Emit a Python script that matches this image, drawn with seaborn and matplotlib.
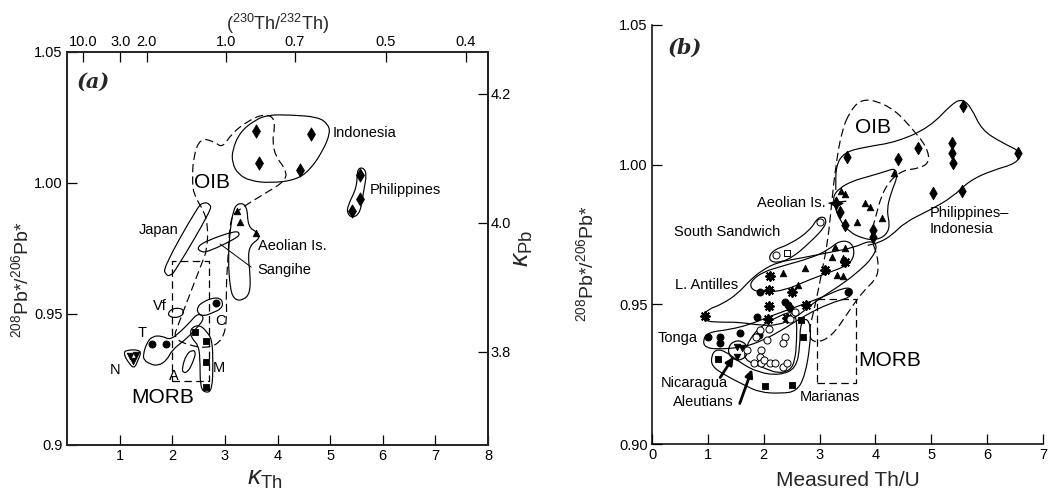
import numpy as np
import matplotlib
matplotlib.use("Agg")
import matplotlib.pyplot as plt
from matplotlib.path import Path
from matplotlib.patches import PathPatch, Ellipse, Rectangle
import seaborn as sns

sns.set_theme(style="ticks")
plt.rcParams['font.family'] = ['Liberation Sans', 'DejaVu Sans']
plt.rcParams['mathtext.fontset'] = 'custom'
plt.rcParams['mathtext.rm'] = 'Liberation Sans'
plt.rcParams['mathtext.it'] = 'Liberation Sans:italic'

# ---------------- panel (a) data : kappa_Th vs 208Pb*/206Pb* ----------------
A_X_TICKS = [1, 2, 3, 4, 5, 6, 7, 8]
A_Y_TICKS = [0.9, 0.95, 1.00, 1.05]
A_Y_TICKLABELS = ["0.9", "0.95", "1.00", "1.05"]
A_TOP_TICKS = [10.0, 3.0, 2.0, 1.0, 0.7, 0.5, 0.4]          # (230Th/232Th)
A_TOP_LABELS = ["10.0", "3.0", "2.0", "1.0", "0.7", "0.5", "0.4"]
TH_CONST = 3.03                                             # (230Th/232Th) = 3.03 / kappa
A_RIGHT_TICKS = [3.8, 4.0, 4.2]                             # kappa_Pb
PB_SCALE = 0.2462                                           # 208Pb*/206Pb* = 0.2462 * kappa_Pb

A_IND_X = [3.59, 4.64, 3.65, 4.43]
A_IND_Y = [1.0199, 1.0187, 1.0076, 1.0050]
A_PHIL_X = [5.57, 5.57, 5.42]
A_PHIL_Y = [1.0030, 0.9939, 0.9893]
A_AEOL_X = [3.23, 3.29, 3.59]
A_AEOL_Y = [0.9893, 0.9851, 0.9809]
A_TONGA_X = [1.62, 1.88]
A_TONGA_Y = [0.9385, 0.9385]
A_C_X = [2.83]
A_C_Y = [0.9542]
A_NIC_X = [1.20, 1.31, 1.26]
A_NIC_Y = [0.9340, 0.9344, 0.9321]
A_MAR_X = [2.43, 2.64, 2.64, 2.64]
A_MAR_Y = [0.9431, 0.9397, 0.9317, 0.9221]

A_OUT_INDONESIA = [(3.14, 1.0126), (3.29, 1.0195), (3.57, 1.0240), (3.82, 1.0260), (4.24, 1.0260),
                   (4.77, 1.0252), (4.96, 1.0225), (5.00, 1.0191), (4.87, 1.0126), (4.62, 1.0050),
                   (4.34, 1.0011), (3.86, 1.0000), (3.48, 1.0008), (3.25, 1.0034), (3.14, 1.0076)]
A_OUT_PHIL = [(5.61, 1.0061), (5.70, 1.0038), (5.63, 0.9962), (5.57, 0.9885), (5.42, 0.9866),
              (5.32, 0.9885), (5.34, 0.9916), (5.51, 0.9985), (5.51, 1.0050)]
A_OUT_OIB = [(2.53, 1.0172), (2.81, 1.0157), (2.95, 1.0134), (3.14, 1.0191), (3.44, 1.0237),
             (3.73, 1.0263), (3.92, 1.0252), (3.95, 1.0214), (3.90, 1.0157), (3.97, 1.0099),
             (4.14, 1.0057), (4.18, 1.0011), (3.71, 0.9954), (3.25, 0.9897), (3.10, 0.9866),
             (3.06, 0.9718), (3.02, 0.9592), (3.04, 0.9469), (2.95, 0.9401), (2.72, 0.9370),
             (2.34, 0.9378), (2.02, 0.9408), (2.11, 0.9458), (2.57, 0.9698), (2.66, 0.9744),
             (2.68, 0.9840), (2.59, 0.9897), (2.41, 0.9954), (2.38, 1.0011), (2.40, 1.0099)]
A_OUT_JAPAN = [(1.88, 0.9649), (1.83, 0.9676), (2.47, 0.9905), (2.59, 0.9927), (2.72, 0.9920),
               (2.74, 0.9897), (2.07, 0.9668), (1.96, 0.9645)]
A_OUT_SANGIHE = [(2.47, 0.9756), (2.68, 0.9782), (3.19, 0.9817), (3.29, 0.9809), (3.23, 0.9790),
                 (2.68, 0.9737), (2.53, 0.9737)]
A_OUT_AEOLIAN = [(3.25, 0.9924), (3.42, 0.9916), (3.44, 0.9832), (3.61, 0.9813), (3.67, 0.9790),
                 (3.48, 0.9763), (3.44, 0.9718), (3.48, 0.9656), (3.48, 0.9580), (3.35, 0.9553),
                 (3.19, 0.9553), (3.10, 0.9592), (3.06, 0.9718), (3.10, 0.9821), (3.16, 0.9897)]
A_OUT_TONGA = [(1.445, 0.9344), (1.52, 0.9393), (1.635, 0.9416), (1.806, 0.9416), (1.958, 0.9401),
               (2.148, 0.9431), (2.338, 0.9469), (2.49, 0.9504), (2.624, 0.9485), (2.433, 0.9439),
               (2.243, 0.9401), (1.996, 0.9363), (1.901, 0.9324), (1.73, 0.9302), (1.578, 0.9309),
               (1.464, 0.9324)]
A_OUT_NIC = [(1.103, 0.9363), (1.426, 0.9363), (1.35, 0.9324), (1.274, 0.9290), (1.16, 0.9317),
             (1.084, 0.9344)]
A_OUT_C = [(2.47, 0.9527), (2.586, 0.9546), (2.757, 0.9561), (2.909, 0.9561), (2.966, 0.9542),
           (2.928, 0.9519), (2.757, 0.9504), (2.605, 0.9492), (2.49, 0.9500)]
A_OUT_VF = [(1.92, 0.9504), (1.996, 0.9520), (2.148, 0.9523), (2.224, 0.9512), (2.186, 0.9492),
            (2.034, 0.9485), (1.939, 0.9492)]
A_OUT_ALEUT = [(2.186, 0.9294), (2.262, 0.9344), (2.376, 0.9363), (2.452, 0.9355), (2.395, 0.9317),
               (2.30, 0.9279), (2.205, 0.9275)]
A_OUT_MAR = [(2.376, 0.9450), (2.529, 0.9458), (2.662, 0.9431), (2.757, 0.9401), (2.776, 0.9313),
             (2.757, 0.9210), (2.643, 0.9198), (2.529, 0.9218), (2.529, 0.9336), (2.49, 0.9382),
             (2.395, 0.9401), (2.338, 0.9427)]
A_MORB_BOX = (2.00, 0.9244, 2.70, 0.9702)   # x0, y0, x1, y1
A_SANGIHE_LEADER = [(2.91, 0.9767), (3.50, 0.9679)]

A_LABELS = [("Indonesia", 5.04, 1.0191, "left", 10.5), ("Philippines", 5.76, 0.9973, "left", 10.5),
            ("OIB", 2.76, 1.0000, "center", 15), ("Japan", 2.11, 0.9821, "right", 10.5),
            ("Aeolian Is.", 3.63, 0.9760, "left", 10.5), ("Sangihe", 3.61, 0.9668, "left", 10.5),
            ("Vf", 1.77, 0.9530, "center", 10.5), ("C", 2.91, 0.9475, "center", 10.5),
            ("T", 1.43, 0.9427, "center", 10.5), ("N", 0.91, 0.9286, "center", 10.5),
            ("A", 2.03, 0.9262, "center", 10.5), ("M", 2.88, 0.9294, "center", 10.5),
            ("MORB", 1.81, 0.9180, "center", 15)]

# ---------------- panel (b) data : measured Th/U vs 208Pb*/206Pb* ----------------
B_X_TICKS = [0, 1, 2, 3, 4, 5, 6, 7]
B_Y_TICKS = [0.90, 0.95, 1.00, 1.05]
B_Y_TICKLABELS = ["0.90", "0.95", "1.00", "1.05"]

B_DIAM_X = [5.56, 3.49, 4.40, 4.76, 5.37, 5.37, 5.38, 6.55, 5.03, 5.55, 3.36, 3.45, 3.95, 3.95]
B_DIAM_Y = [1.0210, 1.0027, 1.0020, 1.0059, 1.0077, 1.0041, 1.0005, 1.0041, 0.9898, 0.9905,
            0.9830, 0.9783, 0.9765, 0.9740]
B_TRI_X = [3.38, 3.45, 3.81, 3.90, 3.67, 4.11, 3.27, 3.45, 3.22, 3.42, 2.74, 2.34, 2.61, 3.31, 3.42, 4.33]
B_TRI_Y = [0.9905, 0.9894, 0.9862, 0.9848, 0.9794, 0.9808, 0.9704, 0.9701, 0.9668, 0.9665,
           0.9629, 0.9611, 0.9568, 0.9604, 0.9600, 0.9970]
B_AST_X = [0.95, 2.11, 2.09, 2.09, 2.08, 2.50, 2.75, 2.42, 3.09, 3.45]
B_AST_Y = [0.9460, 0.9600, 0.9550, 0.9493, 0.9446, 0.9543, 0.9496, 0.9450, 0.9622, 0.9651]
B_FCIRC_X = [1.00, 1.22, 1.22, 1.57, 1.91, 1.93, 1.88, 2.38, 2.43, 2.47, 3.51]
B_FCIRC_Y = [0.9382, 0.9382, 0.9360, 0.9396, 0.9392, 0.9543, 0.9453, 0.9507, 0.9496, 0.9486, 0.9543]
B_OCIRC_X = [2.56, 2.47, 1.93, 2.09, 2.06, 1.86, 2.38, 2.34, 1.70, 1.95, 1.93, 1.82, 1.95,
             2.00, 2.11, 2.20, 2.34, 2.42, 2.22, 3.01]
B_OCIRC_Y = [0.9471, 0.9446, 0.9407, 0.9410, 0.9371, 0.9382, 0.9382, 0.9360, 0.9335, 0.9335,
             0.9310, 0.9289, 0.9289, 0.9299, 0.9289, 0.9289, 0.9274, 0.9289, 0.9676, 0.9794]
B_OSQ_X = [2.42]
B_OSQ_Y = [0.9683]
B_FSQ_X = [1.18, 2.02, 2.50, 2.70, 2.67]
B_FSQ_Y = [0.9306, 0.9206, 0.9213, 0.9382, 0.9443]
B_INVT_X = [1.52, 1.61, 1.52]
B_INVT_Y = [0.9346, 0.9342, 0.9310]
B_AEOL_STAR = (3.29, 0.9862)

B_OUT_OIB = [(3.54, 1.0188), (3.72, 1.0231), (3.99, 1.0231), (4.35, 1.0195), (4.65, 1.0131),
             (4.92, 1.0063), (4.97, 1.0009), (4.79, 0.9987), (4.49, 0.9980), (4.26, 0.9944),
             (4.11, 0.9891), (4.01, 0.9819), (3.90, 0.9737), (4.01, 0.9694), (4.06, 0.9633),
             (4.01, 0.9590), (3.76, 0.9543), (3.51, 0.9471), (3.22, 0.9385), (2.92, 0.9360),
             (2.79, 0.9389), (2.92, 0.9496), (3.04, 0.9615), (3.15, 0.9729), (3.22, 0.9873),
             (3.29, 0.9998), (3.40, 1.0124)]
B_OUT_PHILIND = [(3.29, 0.9909), (3.29, 0.9998), (3.45, 1.0045), (3.81, 1.0063), (4.38, 1.0081),
                 (4.97, 1.0134), (5.38, 1.0220), (5.56, 1.0235), (5.72, 1.0203), (5.90, 1.0124),
                 (6.28, 1.0077), (6.62, 1.0045), (6.53, 1.0005), (6.10, 0.9980), (5.69, 0.9944),
                 (5.38, 0.9884), (4.97, 0.9837), (4.53, 0.9794), (4.29, 0.9747), (4.08, 0.9722),
                 (3.86, 0.9711)]
B_OUT_AEOL = [(3.24, 0.9888), (3.36, 0.9916), (3.58, 0.9941), (3.90, 0.9959), (4.20, 0.9977),
              (4.35, 0.9987), (4.40, 0.9959), (4.28, 0.9901), (4.20, 0.9837), (4.26, 0.9783),
              (4.19, 0.9747), (3.99, 0.9729), (3.76, 0.9737), (3.54, 0.9758), (3.36, 0.9801),
              (3.27, 0.9851)]
B_OUT_TRI = [(1.75, 0.9579), (1.97, 0.9615), (2.38, 0.9640), (2.83, 0.9665), (3.15, 0.9694),
             (3.36, 0.9729), (3.58, 0.9722), (3.63, 0.9676), (3.51, 0.9640), (3.18, 0.9615),
             (2.79, 0.9586), (2.38, 0.9550), (2.02, 0.9543), (1.79, 0.9550)]
B_OUT_LANT = [(0.91, 0.9457), (1.00, 0.9482), (1.25, 0.9500), (1.54, 0.9539), (1.75, 0.9586),
              (1.97, 0.9622), (2.25, 0.9651), (2.65, 0.9665), (3.18, 0.9686), (3.63, 0.9704),
              (3.90, 0.9729), (4.04, 0.9711), (3.94, 0.9665), (3.72, 0.9622), (3.45, 0.9579),
              (3.09, 0.9532), (2.83, 0.9496), (2.56, 0.9450), (2.25, 0.9425), (1.93, 0.9425),
              (1.57, 0.9436), (1.22, 0.9436), (0.97, 0.9439)]
B_OUT_TONGA = [(0.91, 0.9371), (1.00, 0.9400), (1.40, 0.9410), (1.75, 0.9428), (2.11, 0.9457),
               (2.65, 0.9496), (3.09, 0.9529), (3.45, 0.9561), (3.60, 0.9554), (3.56, 0.9525),
               (3.18, 0.9504), (2.74, 0.9461), (2.38, 0.9414), (1.99, 0.9371), (1.63, 0.9346),
               (1.16, 0.9339), (0.95, 0.9346)]
B_OUT_ALEUT = [(1.66, 0.9328), (1.75, 0.9378), (1.97, 0.9425), (2.20, 0.9450), (2.47, 0.9475),
               (2.59, 0.9457), (2.59, 0.9371), (2.56, 0.9299), (2.47, 0.9263), (2.25, 0.9253),
               (2.02, 0.9271), (1.79, 0.9289), (1.66, 0.9306)]
B_OUT_MAR = [(1.06, 0.9314), (1.14, 0.9339), (1.32, 0.9332), (1.57, 0.9292), (1.90, 0.9256),
             (2.29, 0.9246), (2.58, 0.9271), (2.65, 0.9353), (2.65, 0.9425), (2.75, 0.9453),
             (2.84, 0.9425), (2.83, 0.9353), (2.74, 0.9246), (2.59, 0.9188), (2.29, 0.9181),
             (1.93, 0.9185), (1.66, 0.9210), (1.31, 0.9246), (1.07, 0.9278)]
B_OUT_SSAND = [(2.08, 0.9661), (2.16, 0.9694), (2.47, 0.9715), (2.83, 0.9765), (2.97, 0.9812),
               (3.11, 0.9812), (3.11, 0.9780), (2.83, 0.9722), (2.50, 0.9665), (2.22, 0.9647)]
B_NIC_RING = (1.54, 0.9335, 0.34, 0.0068)   # centre x, centre y, width, height
B_MORB_BOX = (2.95, 0.9220, 3.65, 0.9520)
B_ARROWS = [((1.22, 0.9238), (1.46, 0.9312)), ((1.57, 0.9145), (1.79, 0.9268))]
B_AEOL_LEADER = [(3.17, 0.9862), (3.47, 0.9869)]

B_LABELS = [("OIB", 3.95, 1.0134, "center", 15), ("Aeolian Is.", 3.11, 0.9862, "right", 10.5),
            ("South Sandwich", 1.34, 0.9758, "center", 10.5), ("Philippines\u2013", 4.97, 0.9826, "left", 10.5),
            ("Indonesia", 4.97, 0.9768, "left", 10.5), ("L. Antilles", 0.98, 0.9568, "center", 10.5),
            ("Tonga", 0.46, 0.9378, "center", 10.5), ("Nicaragua", 0.75, 0.9217, "center", 10.5),
            ("Aleutians", 0.91, 0.9149, "center", 10.5), ("Marianas", 3.18, 0.9167, "center", 10.5),
            ("MORB", 3.69, 0.9300, "left", 15)]


# ---------------- helpers ----------------
def smooth_path(pts, closed=True):
    P = np.asarray(pts, float)
    if closed:
        mids = (P + np.roll(P, -1, axis=0)) / 2.0
        verts = [mids[-1]]
        codes = [Path.MOVETO]
        for i in range(len(P)):
            verts += [P[i], mids[i]]
            codes += [Path.CURVE3, Path.CURVE3]
        return Path(verts, codes)
    mids = (P[:-1] + P[1:]) / 2.0
    verts = [P[0], mids[0]]
    codes = [Path.MOVETO, Path.LINETO]
    for i in range(1, len(P) - 1):
        verts += [P[i], mids[i]]
        codes += [Path.CURVE3, Path.CURVE3]
    verts.append(P[-1])
    codes.append(Path.LINETO)
    return Path(verts, codes)


def outline(ax, pts, dashed=False, closed=True, lw=0.85):
    ls = (0, (7, 3.5)) if dashed else '-'
    ax.add_patch(PathPatch(smooth_path(pts, closed), facecolor='none', edgecolor='black',
                           lw=lw, ls=ls, zorder=2))


def pts(ax, x, y, marker, s, filled=True, lw=0.6):
    fc = 'black' if filled else 'white'
    sns.scatterplot(x=x, y=y, ax=ax, marker=marker, s=s, color=fc, edgecolor='black',
                    linewidth=lw, legend=False, zorder=4)


def morb_box(ax, box):
    x0, y0, x1, y1 = box
    ax.add_patch(Rectangle((x0, y0), x1 - x0, y1 - y0, fill=False, ls=(0, (6, 3.5)),
                           lw=0.9, edgecolor='black', zorder=2))


fig = plt.figure(figsize=(10.52, 4.91), dpi=100)
axA = fig.add_axes([0.0637, 0.0937, 0.4002, 0.8004])
axB = fig.add_axes([0.6198, 0.0957, 0.3717, 0.8534])

# ---------------- panel (a) ----------------
for o in [A_OUT_INDONESIA, A_OUT_PHIL, A_OUT_JAPAN, A_OUT_SANGIHE, A_OUT_AEOLIAN, A_OUT_TONGA,
          A_OUT_NIC, A_OUT_C, A_OUT_VF, A_OUT_ALEUT, A_OUT_MAR]:
    outline(axA, o)
outline(axA, A_OUT_OIB, dashed=True)
morb_box(axA, A_MORB_BOX)
axA.plot([p[0] for p in A_SANGIHE_LEADER], [p[1] for p in A_SANGIHE_LEADER], color='black', lw=0.7)

pts(axA, A_IND_X, A_IND_Y, 'd', 45)
pts(axA, A_PHIL_X, A_PHIL_Y, 'd', 45)
pts(axA, A_AEOL_X, A_AEOL_Y, '^', 22)
pts(axA, A_TONGA_X, A_TONGA_Y, 'o', 26)
pts(axA, A_C_X, A_C_Y, 'o', 26)
pts(axA, A_NIC_X, A_NIC_Y, 'v', 22)
pts(axA, A_MAR_X, A_MAR_Y, 's', 22)

for txt, x, y, ha, fs in A_LABELS:
    axA.text(x, y, txt, ha=ha, va='center', fontsize=fs, color='black', zorder=5)

axA.set_xlim(0, 8)
axA.set_ylim(0.9, 1.05)
axA.set_xticks(A_X_TICKS)
axA.set_yticks(A_Y_TICKS)
axA.set_yticklabels(A_Y_TICKLABELS)
axA.tick_params(direction='in', length=7, width=0.9, labelsize=10.5, pad=3, colors='black')
for sp in axA.spines.values():
    sp.set_linewidth(1.1)
    sp.set_color('black')
axA.set_xlabel(r"$\kappa_{\mathrm{Th}}$", fontsize=19, labelpad=0)
axA.xaxis.set_label_coords(0.47, -0.055)
axA.set_ylabel(r"$^{208}$Pb*/$^{206}$Pb*", fontsize=14)
axA.yaxis.set_label_coords(-0.082, 0.42)

topA = axA.twiny()
topA.set_xlim(axA.get_xlim())
topA.set_xticks([TH_CONST / v for v in A_TOP_TICKS])
topA.set_xticklabels(A_TOP_LABELS)
topA.tick_params(direction='in', length=7, width=0.9, labelsize=10.5, pad=2, colors='black')
topA.set_xlabel(r"($^{230}$Th/$^{232}$Th)", fontsize=13, labelpad=4)

rightA = axA.secondary_yaxis('right', functions=(lambda y: y / PB_SCALE, lambda k: k * PB_SCALE))
rightA.set_yticks(A_RIGHT_TICKS)
rightA.set_yticklabels([f"{v:.1f}" for v in A_RIGHT_TICKS])
rightA.tick_params(direction='in', length=7, width=0.9, labelsize=10.5, pad=2, colors='black')
rightA.set_ylabel(r"$\kappa_{\mathrm{Pb}}$", fontsize=19, rotation=90, labelpad=0)

axA.text(0.022, 0.924, "(a)", transform=axA.transAxes, fontsize=15, family='DejaVu Serif',
         style='italic', weight='bold', va='center', ha='left')

# ---------------- panel (b) ----------------
for o in [B_OUT_PHILIND]:
    outline(axB, o, closed=False)
for o in [B_OUT_AEOL, B_OUT_TRI, B_OUT_LANT, B_OUT_TONGA, B_OUT_ALEUT, B_OUT_MAR, B_OUT_SSAND]:
    outline(axB, o)
outline(axB, B_OUT_OIB, dashed=True)
cx, cy, w, h = B_NIC_RING
axB.add_patch(Ellipse((cx, cy), w, h, fill=False, edgecolor='black', lw=0.9, zorder=2))
morb_box(axB, B_MORB_BOX)
for tail, tip in B_ARROWS:
    axB.annotate("", xy=tip, xytext=tail,
                 arrowprops=dict(arrowstyle='-|>', color='black', lw=2.0, mutation_scale=11,
                                 shrinkA=0, shrinkB=0), zorder=5)
axB.plot([p[0] for p in B_AEOL_LEADER], [p[1] for p in B_AEOL_LEADER], color='black', lw=1.0, zorder=4)

pts(axB, B_DIAM_X, B_DIAM_Y, 'd', 40)
pts(axB, B_TRI_X, B_TRI_Y, '^', 22)
pts(axB, B_AST_X, B_AST_Y, (8, 2, 0), 40, lw=1.4)
pts(axB, B_FCIRC_X, B_FCIRC_Y, 'o', 26)
pts(axB, B_OCIRC_X, B_OCIRC_Y, 'o', 26, filled=False, lw=0.7)
pts(axB, B_OSQ_X, B_OSQ_Y, 's', 22, filled=False, lw=0.7)
pts(axB, B_FSQ_X, B_FSQ_Y, 's', 24)
pts(axB, B_INVT_X, B_INVT_Y, 'v', 22)
pts(axB, [B_AEOL_STAR[0]], [B_AEOL_STAR[1]], (4, 1, 0), 90)

for txt, x, y, ha, fs in B_LABELS:
    axB.text(x, y, txt, ha=ha, va='center', fontsize=fs, color='black', zorder=5)

axB.set_xlim(0, 7)
axB.set_ylim(0.9, 1.05)
axB.set_xticks(B_X_TICKS)
axB.set_yticks(B_Y_TICKS)
axB.set_yticklabels(B_Y_TICKLABELS)
axB.tick_params(direction='in', length=7, width=0.9, labelsize=10.5, pad=3, colors='black')
sns.despine(ax=axB)
for sp in ['left', 'bottom']:
    axB.spines[sp].set_linewidth(1.1)
    axB.spines[sp].set_color('black')
axB.set_xlabel("Measured Th/U", fontsize=15)
axB.xaxis.set_label_coords(0.5, -0.065)
axB.set_ylabel(r"$^{208}$Pb*/$^{206}$Pb*", fontsize=14)
axB.yaxis.set_label_coords(-0.14, 0.43)
axB.text(0.041, 0.945, "(b)", transform=axB.transAxes, fontsize=15, family='DejaVu Serif',
         style='italic', weight='bold', va='center', ha='left')

fig.savefig("out.png", dpi=100, facecolor='white')
